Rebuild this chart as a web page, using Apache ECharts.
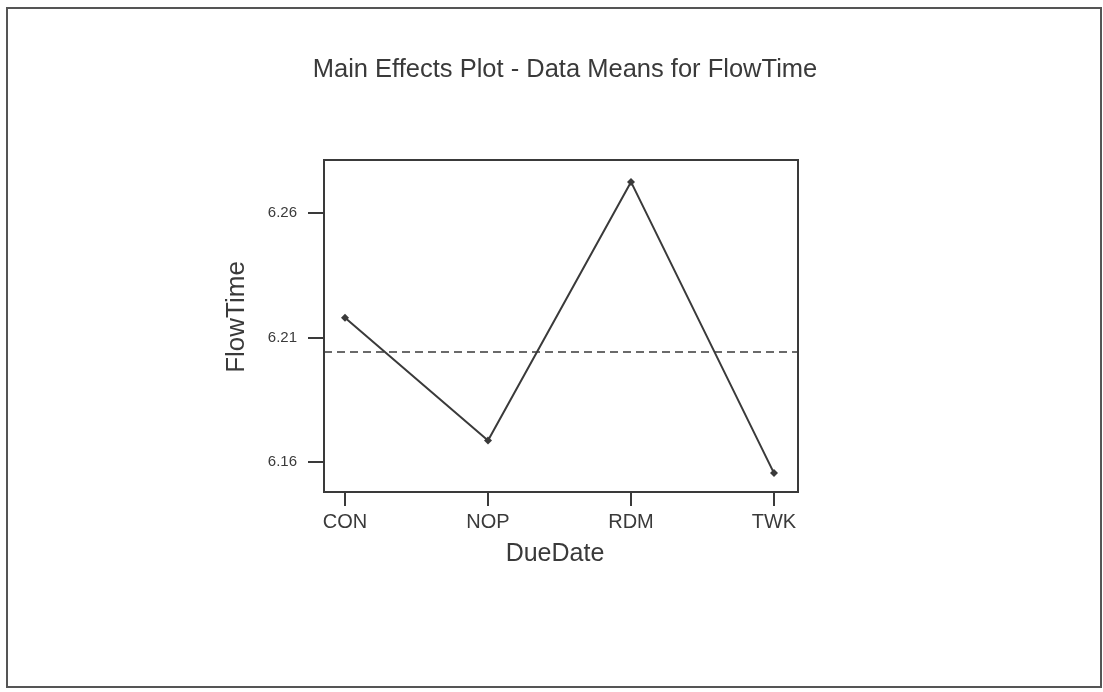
<!DOCTYPE html>
<html>
<head>
<meta charset="utf-8">
<title>Main Effects Plot - Data Means for FlowTime</title>
<script src="https://cdn.jsdelivr.net/npm/echarts@6/dist/echarts.min.js"></script>
<style>
  html, body { margin: 0; padding: 0; background: #fff; }
  #chart { width: 1103px; height: 692px; }
</style>
</head>
<body>
<div id="chart"></div>
<script>
// DueDate levels and their mean FlowTime
const categories = ['CON', 'NOP', 'RDM', 'TWK'];
const flowTimeMeans = [6.218, 6.1687, 6.2725, 6.1556];
// grand mean reference line
const grandMean = 6.2045;
// y tick labels
const yTicks = [6.16, 6.21, 6.26];

const ink = '#3a3a3a';
const font = '"Liberation Sans", Arial, sans-serif';

const chart = echarts.init(document.getElementById('chart'), null, { renderer: 'canvas' });

chart.setOption({
  backgroundColor: '#ffffff',
  animation: false,
  title: {
    text: 'Main Effects Plot - Data Means for FlowTime',
    left: 560,
    top: 52,
    textAlign: 'center',
    textStyle: { fontFamily: font, fontSize: 25.5, fontWeight: 'normal', color: ink }
  },
  graphic: [{
    type: 'rect',
    shape: { x: 7, y: 8, width: 1094, height: 679 },
    style: { fill: 'none', stroke: '#555', lineWidth: 2 },
    silent: true
  }],
  grid: {
    left: 324, top: 160, right: 305, bottom: 200,
    show: true, borderColor: ink, borderWidth: 2, backgroundColor: 'transparent'
  },
  xAxis: {
    type: 'value',
    min: -0.147,
    max: 3.168,
    name: 'DueDate',
    nameLocation: 'middle',
    nameGap: 50,
    nameTextStyle: { fontFamily: font, fontSize: 25, color: ink, padding: [0, 12, 0, 0] },
    axisLine: { show: true, onZero: false, lineStyle: { color: ink, width: 2 } },
    axisTick: {
      show: true, inside: false, length: 14,
      customValues: [0, 1, 2, 3],
      lineStyle: { color: ink, width: 2 }
    },
    axisLabel: {
      customValues: [0, 1, 2, 3],
      formatter: v => categories[Math.round(v)],
      margin: 20,
      fontFamily: font, fontSize: 20, color: ink
    },
    splitLine: { show: false }
  },
  yAxis: {
    type: 'value',
    min: 6.148,
    max: 6.2813,
    name: 'FlowTime',
    nameLocation: 'middle',
    nameGap: 74,
    nameRotate: 90,
    nameTextStyle: { fontFamily: font, fontSize: 26, color: ink, padding: [0, 0, 0, 18] },
    axisLine: { show: true, onZero: false, lineStyle: { color: ink, width: 2 } },
    axisTick: {
      show: true, inside: false, length: 16,
      customValues: yTicks,
      lineStyle: { color: ink, width: 2 }
    },
    axisLabel: {
      customValues: yTicks,
      formatter: v => v.toFixed(2),
      margin: 27,
      fontFamily: font, fontSize: 15, color: ink
    },
    splitLine: { show: false }
  },
  series: [{
    type: 'line',
    data: categories.map((c, i) => [i, flowTimeMeans[i]]),
    symbol: 'diamond',
    symbolSize: 8,
    showSymbol: true,
    lineStyle: { color: ink, width: 2 },
    itemStyle: { color: ink },
    markLine: {
      silent: true,
      precision: 4,
      symbol: ['none', 'none'],
      label: { show: false },
      lineStyle: { color: ink, width: 1.5, type: [8, 5] },
      data: [{ yAxis: grandMean }]
    }
  }]
});
</script>
</body>
</html>
